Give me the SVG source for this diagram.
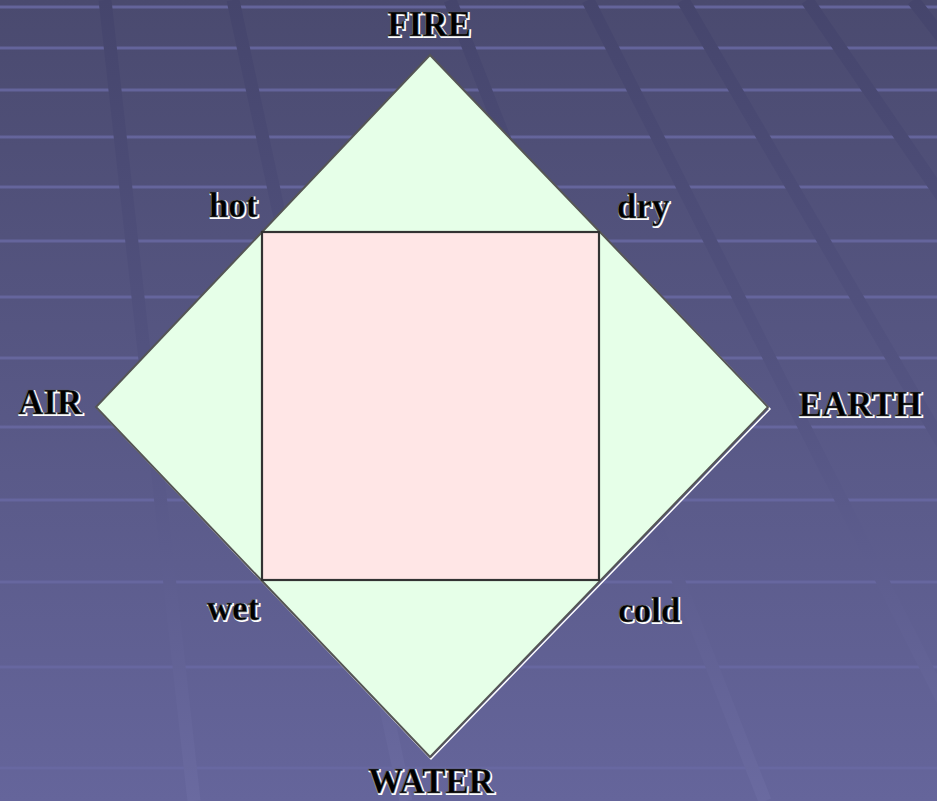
<svg xmlns="http://www.w3.org/2000/svg" width="937" height="801" viewBox="0 0 937 801">
<defs>
<linearGradient id="bg" x1="0" y1="0" x2="0" y2="1">
<stop offset="0" stop-color="#4a4a6f"/>
<stop offset="1" stop-color="#65659b"/>
</linearGradient>
<linearGradient id="slant" gradientUnits="userSpaceOnUse" x1="0" y1="0" x2="0" y2="801">
<stop offset="0" stop-color="#45456c"/>
<stop offset="0.5" stop-color="#545482"/>
<stop offset="1" stop-color="#6a6aa0"/>
</linearGradient>
</defs>
<style>
.h{stroke:#6868a2;stroke-width:3;fill:none;opacity:0.85}
.s{stroke:url(#slant);stroke-width:13;fill:none}
.lbl{font-family:"Liberation Serif","Times New Roman",serif;font-weight:bold;font-size:35px;text-anchor:middle}
.sh{fill:#ffffff;stroke:#ffffff;stroke-width:2}
.fg{fill:#000000;stroke:#555555;stroke-width:0.6}
.dia{fill:#e6ffe8;stroke:#555555;stroke-width:2}
.dia2{fill:none;stroke:#ffffff;stroke-width:1.5}
.sq{fill:#ffe6e6;stroke:#333333;stroke-width:2.2}
</style>
<rect x="0" y="0" width="937" height="801" fill="url(#bg)"/>
<g id="grid">
<path class="h" d="M0 7H937M0 48H937M0 90H937M0 137H937M0 187H937M0 241H937M0 297H937M0 358H937M0 427H937M0 500H937M0 582H937M0 667H937M0 768H937"/>
<path class="s" d="M105 0L194 801M233 0L406 801M450 0L765 801M588 0L994 801M683 0L1151 801M807 0L1357 801M913 0L1532 801"/>
</g>
<g id="diamond">
<polygon class="dia2" points="431,57 770,409 431,759 98,409"/>
<polygon class="dia" points="430,55 768,407 430,757 96,407"/>
</g>
<g id="square">
<rect class="sq" x="262" y="232" width="337" height="348"/>
</g>
<g id="fire"><text class="lbl sh" x="430" y="37">FIRE</text><text class="lbl fg" x="429" y="36">FIRE</text></g>
<g id="hot"><text class="lbl sh" x="234" y="218">hot</text><text class="lbl fg" x="233" y="217">hot</text></g>
<g id="dry"><text class="lbl sh" x="644" y="219">dry</text><text class="lbl fg" x="643" y="218">dry</text></g>
<g id="air"><text class="lbl sh" x="51" y="415">AIR</text><text class="lbl fg" x="50" y="414">AIR</text></g>
<g id="earth"><text class="lbl sh" x="861" y="417">EARTH</text><text class="lbl fg" x="860" y="416">EARTH</text></g>
<g id="wet"><text class="lbl sh" x="234" y="621">wet</text><text class="lbl fg" x="233" y="620">wet</text></g>
<g id="cold"><text class="lbl sh" x="650" y="623">cold</text><text class="lbl fg" x="649" y="622">cold</text></g>
<g id="water"><text class="lbl sh" x="432" y="794">WATER</text><text class="lbl fg" x="431" y="793">WATER</text></g>
</svg>
